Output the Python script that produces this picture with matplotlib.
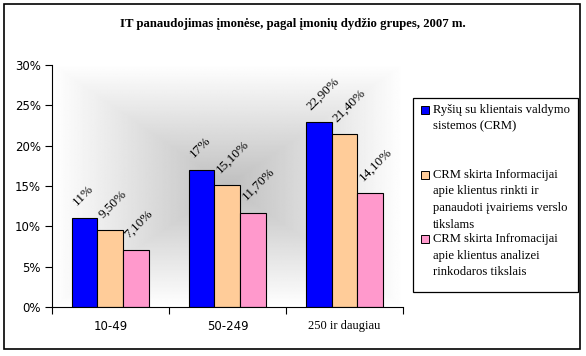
import numpy as np
import matplotlib.pyplot as plt
from matplotlib.patches import Rectangle

# Duomenys
grupes = ["10-49", "50-249", "250 ir daugiau"]
serijos = [
    "Ryšių su klientais valdymo\nsistemos (CRM)",
    "CRM skirta Informacijai\napie klientus rinkti ir\npanaudoti įvairiems verslo\ntikslams",
    "CRM skirta Infromacijai\napie klientus analizei\nrinkodaros tikslais",
]
crm = [11.0, 17.0, 22.9]
crm_info = [9.5, 15.1, 21.4]
crm_analize = [7.1, 11.7, 14.1]
etiketes = [
    ["11%", "17%", "22,90%"],
    ["9,50%", "15,10%", "21,40%"],
    ["7,10%", "11,70%", "14,10%"],
]
spalvos = ["#0000FF", "#FFCC99", "#FF99CC"]

plt.rcParams['font.family'] = ['Liberation Serif', 'DejaVu Serif']

W, H = 586, 356
fig = plt.figure(figsize=(W / 100, H / 100), dpi=100)
ax = fig.add_axes([0.0887, 0.1376, 0.599, 0.680])


def px(x, y):
    # pikseliai -> figuros koordinatės
    return x / W, 1 - y / H


# Fonas - gradientas nuo centro
u = np.linspace(-1, 1, 300)
U, V = np.meshgrid(u, u)
d = np.maximum(np.abs(U), np.abs(V))
pilka = 1 - 0.25 * (1 - d)
ax.imshow(pilka, cmap='gray', vmin=0, vmax=1, extent=[0, 3, 0, 30],
          aspect='auto', zorder=0, interpolation='bilinear')

x = np.arange(len(grupes)) + 0.5
plotis = 0.222
reiksmes = [crm, crm_info, crm_analize]
for i, (vals, sp) in enumerate(zip(reiksmes, spalvos)):
    poz = x + (i - 1) * plotis
    ax.bar(poz, vals, width=plotis, color=sp, edgecolor='black', linewidth=0.8,
           zorder=2)
    for p, v, t in zip(poz, vals, etiketes[i]):
        ax.text(p - plotis / 2 + 0.065, v + 1.2, t, rotation=45,
                rotation_mode='anchor', ha='left', va='bottom', fontsize=9.5,
                zorder=3)

ax.set_xlim(0, 3)
ax.set_ylim(0, 30)
ax.set_yticks(range(0, 31, 5))
ax.set_yticklabels([f"{t}%" for t in range(0, 31, 5)], fontsize=8.5,
                   family='DejaVu Sans')
ax.set_xticks([0, 1, 2, 3])
ax.set_xticklabels([])
ax.set_xticks(x, minor=True)
ax.set_xticklabels(grupes, minor=True, fontsize=9)
for lbl in ax.get_xticklabels(minor=True)[:2]:
    lbl.set_family('DejaVu Sans')
    lbl.set_fontsize(8.5)
ax.tick_params(axis='x', which='minor', length=0, pad=9)
ax.tick_params(axis='both', which='major', length=5, width=0.8, direction='out')
ax.tick_params(axis='y', pad=3)
for s in ['top', 'right']:
    ax.spines[s].set_visible(False)
for s in ['left', 'bottom']:
    ax.spines[s].set_linewidth(0.8)

fig.suptitle("IT panaudojimas įmonėse, pagal įmonių dydžio grupes, 2007 m.",
             x=0.5, y=0.95, fontsize=9.2, fontweight='bold')

# Legenda (kaip Excel: žymeklis prie pirmos eilutės)
x0, y0 = px(413, 292)
fig.patches.append(Rectangle((x0, y0), 165 / W, 194 / H, transform=fig.transFigure,
                             facecolor='white', edgecolor='black', linewidth=0.9))
pirmos_eil = [110, 175, 239]
for lbl, sp, yy in zip(serijos, spalvos, pirmos_eil):
    mx, my = px(421, yy + 4)
    fig.patches.append(Rectangle((mx, my), 8 / W, 8 / H, transform=fig.transFigure,
                                 facecolor=sp, edgecolor='black', linewidth=0.7))
    for k, eil in enumerate(lbl.split("\n")):
        tx, ty = px(433, yy + k * 16.5)
        fig.text(tx, ty, eil, fontsize=9.1, ha='left', va='center')

# Rėmelis aplink visą diagramą
fig.patches.append(Rectangle((4 / W, 7 / H), 576 / W, 345 / H,
                             transform=fig.transFigure, fill=False,
                             edgecolor='black', linewidth=1.2))

plt.savefig("out.png", dpi=100)
